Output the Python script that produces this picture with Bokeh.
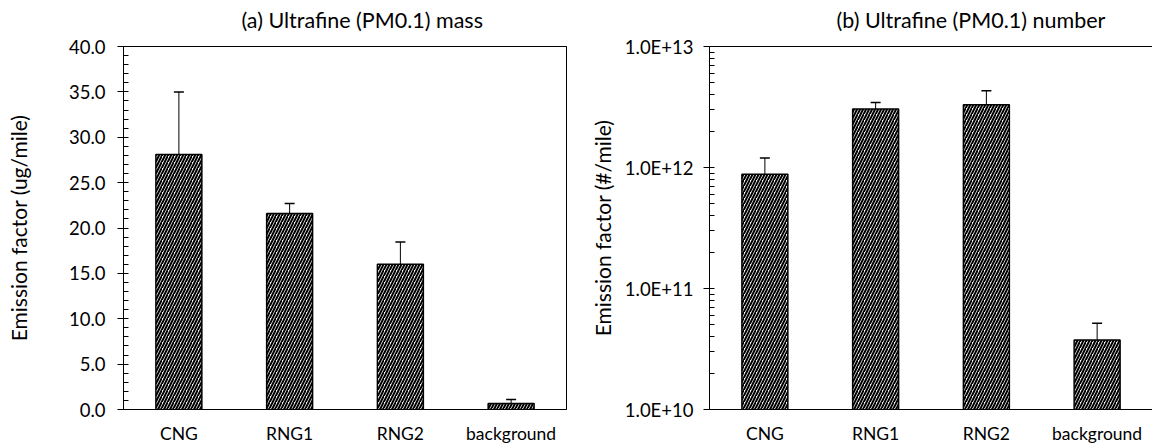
from bokeh.plotting import figure
from bokeh.layouts import row
from bokeh.models import (ColumnDataSource, FactorRange, Range1d, FixedTicker, Whisker,
                          TeeHead, CustomJSTickFormatter, CategoricalAxis)
from bokeh.embed import file_html
from bokeh.resources import INLINE

# ---- data ----
categories = ["CNG", "RNG1", "RNG2", "background"]
mass = [28.1, 21.6, 16.0, 0.65]
mass_err = [6.9, 1.1, 2.45, 0.45]
number = [8.8e11, 3.05e12, 3.3e12, 3.75e10]
number_err = [3.2e11, 4.0e11, 1.0e12, 1.4e10]
mass_ticks = [0, 5, 10, 15, 20, 25, 30, 35, 40]
number_ticks = [1e10, 1e11, 1e12, 1e13]
title_a = "(a) Ultrafine (PM0.1) mass"
title_b = "(b) Ultrafine (PM0.1) number"
ylabel_a = "Emission factor (ug/mile)"
ylabel_b = "Emission factor (#/mile)"

FONT = "Lato"
BAR_W = 0.415


def style(p, xa, ya, label_standoff, tick_standoff):
    p.title.text_font = FONT
    p.title.text_font_size = "21.5px"
    p.title.text_font_style = "normal"
    p.title.text_color = "black"
    p.title.align = "left"
    p.title.vertical_align = "bottom"
    p.title.standoff = 4
    p.xgrid.visible = False
    p.ygrid.visible = False
    xa.major_label_text_font = FONT
    xa.major_label_text_font_size = "17.5px"
    xa.major_label_text_color = "black"
    xa.major_tick_line_color = None
    xa.minor_tick_line_color = None
    xa.major_tick_out = 0
    xa.major_tick_in = 0
    xa.axis_line_color = "black"
    xa.major_label_standoff = 13
    ya.axis_label_text_font = FONT
    ya.axis_label_text_font_size = "21px"
    ya.axis_label_text_font_style = "normal"
    ya.axis_label_text_color = "black"
    ya.axis_label_standoff = label_standoff
    ya.major_label_text_font = FONT
    ya.major_label_text_font_size = "18.5px"
    ya.major_label_text_color = "black"
    ya.major_label_standoff = tick_standoff
    ya.axis_line_color = "black"
    ya.major_tick_line_color = "black"
    ya.minor_tick_line_color = "black"
    ya.major_tick_out = 6
    ya.major_tick_in = 0
    ya.minor_tick_out = 0
    ya.minor_tick_in = 5


def top_border(p, line_color):
    # frame's top edge; its (invisible) tick length lifts the title
    ax = CategoricalAxis(axis_line_color=line_color, major_tick_line_color=None,
                         minor_tick_line_color=None, major_tick_out=12, major_tick_in=0,
                         major_label_text_color=None, major_label_text_font_size="0px",
                         major_label_standoff=0)
    p.add_layout(ax, "above")


def add_bars(p, src, bottom):
    p.vbar(x="x", top="top", bottom=bottom, width=BAR_W, source=src, fill_color="white",
           line_color="black", line_width=1.5, hatch_pattern="/", hatch_color="black",
           hatch_scale=6, hatch_weight=2)
    p.add_layout(Whisker(base="x", upper="upper", lower="lower", source=src,
                         line_color="black", line_width=1,
                         upper_head=TeeHead(size=10, line_color="black", line_width=1.5),
                         lower_head=None))


# ---- panel (a) ----
src_a = ColumnDataSource(dict(
    x=categories, top=mass,
    upper=[m + e for m, e in zip(mass, mass_err)],
    lower=[m - e for m, e in zip(mass, mass_err)],
))
p1 = figure(width=576, height=447, x_range=FactorRange(*categories, range_padding=0),
            y_range=Range1d(0, 40), title=title_a, output_backend="svg",
            toolbar_location=None, min_border_left=123, min_border_right=10,
            min_border_top=46, min_border_bottom=38)
add_bars(p1, src_a, 0)
p1.yaxis.ticker = FixedTicker(ticks=mass_ticks, minor_ticks=list(range(0, 41)))
p1.yaxis.formatter = CustomJSTickFormatter(code="return tick.toFixed(1);")
p1.yaxis.axis_label = ylabel_a
p1.outline_line_color = "black"
p1.outline_line_width = 1
p1.outline_line_alpha = 1
style(p1, p1.below[0], p1.left[0], 35, 12)
top_border(p1, "black")
p1.title.offset = 118

# ---- panel (b) ----
src_b = ColumnDataSource(dict(
    x=categories, top=number,
    upper=[m + e for m, e in zip(number, number_err)],
    lower=[m - e for m, e in zip(number, number_err)],
))
p2 = figure(width=576, height=447, x_range=FactorRange(*categories, range_padding=0),
            y_range=Range1d(1e10, 1e13), y_axis_type="log", title=title_b,
            output_backend="svg", toolbar_location=None, min_border_left=133,
            min_border_right=0, min_border_top=46, min_border_bottom=38)
add_bars(p2, src_b, number_ticks[0])
minor_b = [k * d for d in number_ticks[:-1] for k in range(1, 10)] + [number_ticks[-1]]
p2.yaxis.ticker = FixedTicker(ticks=number_ticks, minor_ticks=minor_b)
p2.yaxis.formatter = CustomJSTickFormatter(code="return tick.toExponential(1).toUpperCase();")
p2.yaxis.axis_label = ylabel_b
p2.outline_line_color = None
style(p2, p2.below[0], p2.left[0], 7, 10)
top_border(p2, "black")
p2.title.offset = 127

layout = row(p1, p2)
open("out.html", "w").write(file_html(layout, INLINE))
